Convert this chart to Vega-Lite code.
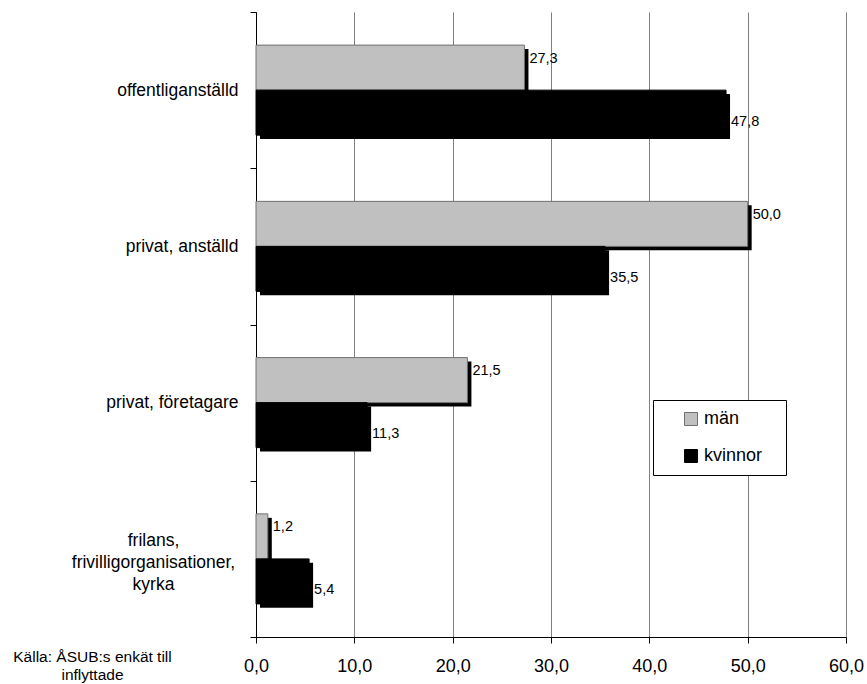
{
  "$schema": "https://vega.github.io/schema/vega-lite/v6.json",
  "width": 590,
  "height": 625,
  "autosize": "none",
  "padding": {"left": 256, "top": 12, "right": 21, "bottom": 47},
  "background": "white",
  "config": {
    "font": "Liberation Sans",
    "view": {"stroke": null},
    "locale": {"number": {"decimal": ",", "thousands": " ", "grouping": [3], "currency": ["", " kr"]}}
  },
  "data": {
    "values": [
      {"kategori": "offentliganställd", "kon": "män", "andel": 27.3},
      {"kategori": "offentliganställd", "kon": "kvinnor", "andel": 47.8},
      {"kategori": "privat, anställd", "kon": "män", "andel": 50.0},
      {"kategori": "privat, anställd", "kon": "kvinnor", "andel": 35.5},
      {"kategori": "privat, företagare", "kon": "män", "andel": 21.5},
      {"kategori": "privat, företagare", "kon": "kvinnor", "andel": 11.3},
      {"kategori": "frilans, frivilligorganisationer, kyrka", "kon": "män", "andel": 1.2},
      {"kategori": "frilans, frivilligorganisationer, kyrka", "kon": "kvinnor", "andel": 5.4}
    ]
  },
  "encoding": {
    "y": {
      "field": "kategori",
      "type": "nominal",
      "sort": null,
      "scale": {"paddingInner": 0, "paddingOuter": 0},
      "axis": {
        "title": null,
        "tickBand": "extent",
        "grid": false,
        "domainColor": "black",
        "tickColor": "black",
        "tickSize": 6,
        "labelFontSize": 17.5,
        "labelColor": "black",
        "labelLimit": 300,
        "labelLineHeight": 22,
        "labelExpr": "datum.value == 'frilans, frivilligorganisationer, kyrka' ? ['frilans,', 'frivilligorganisationer,', 'kyrka'] : datum.label",
        "labelAlign": {"condition": {"test": "datum.value == 'frilans, frivilligorganisationer, kyrka'", "value": "center"}, "value": "right"},
        "labelPadding": {"condition": {"test": "datum.value == 'frilans, frivilligorganisationer, kyrka'", "value": 97}, "value": 12},
        "labelOffset": {"condition": {"test": "datum.value == 'frilans, frivilligorganisationer, kyrka'", "value": -18}, "value": 0}
      }
    },
    "x": {
      "field": "andel",
      "type": "quantitative",
      "scale": {"domain": [0, 60], "nice": false},
      "axis": {
        "values": [0, 10, 20, 30, 40, 50, 60],
        "format": ".1f",
        "grid": true,
        "gridColor": "#808080",
        "gridWidth": 1,
        "domainColor": "black",
        "tickColor": "black",
        "tickSize": 6,
        "labelFontSize": 18,
        "labelColor": "black",
        "labelPadding": 14,
        "labelFlush": false,
        "title": ["Källa: ÅSUB:s enkät till", "inflyttade"],
        "titleFontSize": 15.5,
        "titleFontWeight": "normal",
        "titleColor": "black",
        "titleAlign": "center",
        "titleBaseline": "alphabetic",
        "titleAnchor": null,
        "titleX": -164,
        "titleY": 24,
        "titleLineHeight": 18
      }
    }
  },
  "layer": [
    {
      "mark": {"type": "bar", "color": "black", "xOffset": 4, "x2Offset": 4},
      "encoding": {
        "yOffset": {"field": "kon", "type": "nominal", "sort": ["män", "kvinnor"], "scale": {"paddingInner": 0, "paddingOuter": 0.736, "align": 0.56}}
      }
    },
    {
      "mark": {"type": "bar", "strokeWidth": 1},
      "encoding": {
        "yOffset": {"field": "kon", "type": "nominal", "sort": ["män", "kvinnor"], "scale": {"paddingInner": 0, "paddingOuter": 0.736, "align": 0.5}},
        "stroke": {
          "field": "kon",
          "type": "nominal",
          "scale": {"domain": ["män", "kvinnor"], "range": ["#707070", "#000000"]},
          "legend": null
        },
        "color": {
          "field": "kon",
          "type": "nominal",
          "sort": ["män", "kvinnor"],
          "scale": {"domain": ["män", "kvinnor"], "range": ["#c0c0c0", "#000000"]},
          "legend": {
            "orient": "none",
            "legendX": 397,
            "legendY": 388,
            "title": "\u00a0",
            "titleOrient": "right",
            "titlePadding": 14,
            "titleFontSize": 18,
            "fillColor": "white",
            "strokeColor": "black",
            "padding": 10,
            "symbolType": "square",
            "symbolSize": 169,
            "symbolStrokeColor": "black",
            "symbolStrokeWidth": 1,
            "symbolOffset": 19,
            "labelFontSize": 18,
            "labelColor": "black",
            "labelOffset": 4,
            "rowPadding": 19
          }
        }
      }
    },
    {
      "mark": {"type": "text", "align": "left", "baseline": "middle", "dx": 5, "fontSize": 14.5, "color": "black"},
      "encoding": {
        "yOffset": {"field": "kon", "type": "nominal", "sort": ["män", "kvinnor"], "scale": {"paddingInner": 0, "paddingOuter": 0.736, "align": 0.5}},
        "text": {"field": "andel", "type": "quantitative", "format": ".1f"}
      }
    }
  ],
  "resolve": {"scale": {"yOffset": "independent"}}
}
